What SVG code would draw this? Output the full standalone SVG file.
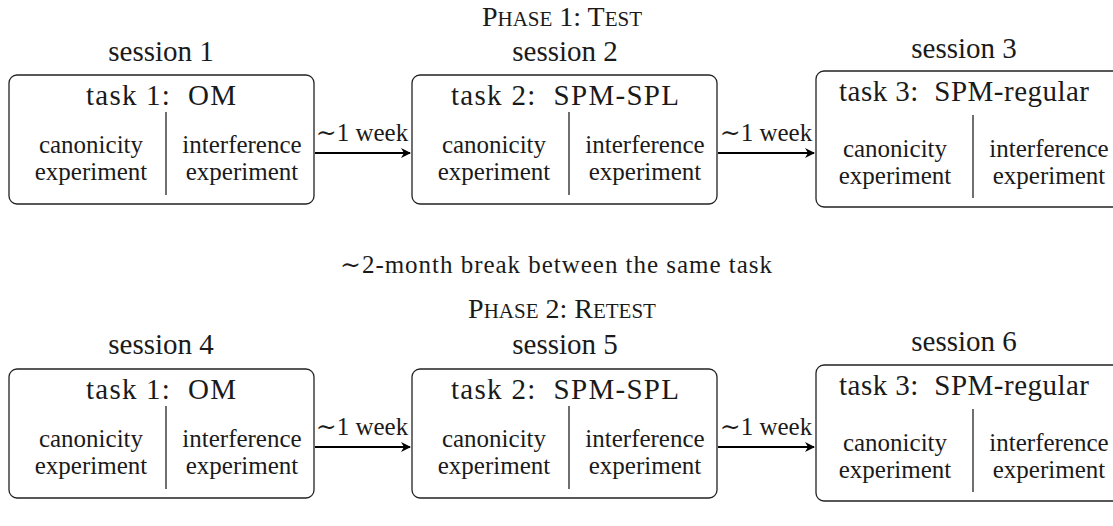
<svg xmlns="http://www.w3.org/2000/svg" width="1113" height="526" viewBox="0 0 1113 526" font-family="'Liberation Serif', 'DejaVu Serif', serif">
<style>
text { font-family: "Liberation Serif", "Times New Roman", "DejaVu Serif", serif; fill: #1a1a1a; text-anchor: middle; }
.lg { font-size: 29px; }
.sm { font-size: 25px; }
.sc { font-size: 28px; }
.sc tspan.s { font-size: 21px; }
.box { fill: none; stroke: #222; stroke-width: 1.3; }
.div { stroke: #222; stroke-width: 1.3; }
.arr { stroke: #000; stroke-width: 2; fill: none; }
</style>
<defs>
<marker id="ah" viewBox="0 0 10 10" refX="9" refY="5" markerWidth="5" markerHeight="5" orient="auto" markerUnits="strokeWidth">
<path d="M0,0 L10,5 L0,10 L3,5 Z" fill="#000"/>
</marker>
</defs>
<text id="phase1" class="sc" x="562" y="26">P<tspan class="s">HASE</tspan> 1: T<tspan class="s">EST</tspan></text>
<text id="break" class="sm" x="556" y="273" textLength="432" lengthAdjust="spacing">∼2-month break between the same task</text>
<text id="phase2" class="sc" x="562" y="318">P<tspan class="s">HASE</tspan> 2: R<tspan class="s">ETEST</tspan></text>

<g id="session1">
<text class="lg" x="161" y="61">session 1</text>
<rect class="box" x="9" y="75" width="305" height="129" rx="8"/>
<text class="lg" x="161" y="105" xml:space="preserve" textLength="150" lengthAdjust="spacing">task 1:  OM</text>
<line class="div" x1="166" y1="112" x2="166" y2="195"/>
<text class="sm" x="91" y="153">canonicity</text>
<text class="sm" x="242" y="153">interference</text>
<text class="sm" x="91" y="180">experiment</text>
<text class="sm" x="242" y="180">experiment</text>
</g>
<g id="session2">
<text class="lg" x="565" y="61">session 2</text>
<rect class="box" x="412" y="75" width="305" height="129" rx="8"/>
<text class="lg" x="565" y="105" xml:space="preserve" textLength="228" lengthAdjust="spacing">task 2:  SPM-SPL</text>
<line class="div" x1="569" y1="112" x2="569" y2="195"/>
<text class="sm" x="494" y="153">canonicity</text>
<text class="sm" x="645" y="153">interference</text>
<text class="sm" x="494" y="180">experiment</text>
<text class="sm" x="645" y="180">experiment</text>
</g>
<g id="session3">
<text class="lg" x="964" y="58">session 3</text>
<rect class="box" x="816" y="71" width="305" height="136" rx="8"/>
<text class="lg" x="964" y="101" xml:space="preserve" textLength="250" lengthAdjust="spacing">task 3:  SPM-regular</text>
<line class="div" x1="973" y1="115" x2="973" y2="198"/>
<text class="sm" x="895" y="157">canonicity</text>
<text class="sm" x="1049" y="157">interference</text>
<text class="sm" x="895" y="184">experiment</text>
<text class="sm" x="1049" y="184">experiment</text>
</g>

<g id="session4">
<text class="lg" x="161" y="354">session 4</text>
<rect class="box" x="9" y="369" width="305" height="129" rx="8"/>
<text class="lg" x="161" y="399" xml:space="preserve" textLength="150" lengthAdjust="spacing">task 1:  OM</text>
<line class="div" x1="166" y1="406" x2="166" y2="489"/>
<text class="sm" x="91" y="447">canonicity</text>
<text class="sm" x="242" y="447">interference</text>
<text class="sm" x="91" y="474">experiment</text>
<text class="sm" x="242" y="474">experiment</text>
</g>
<g id="session5">
<text class="lg" x="565" y="354">session 5</text>
<rect class="box" x="412" y="369" width="305" height="129" rx="8"/>
<text class="lg" x="565" y="399" xml:space="preserve" textLength="228" lengthAdjust="spacing">task 2:  SPM-SPL</text>
<line class="div" x1="569" y1="406" x2="569" y2="489"/>
<text class="sm" x="494" y="447">canonicity</text>
<text class="sm" x="645" y="447">interference</text>
<text class="sm" x="494" y="474">experiment</text>
<text class="sm" x="645" y="474">experiment</text>
</g>
<g id="session6">
<text class="lg" x="964" y="351">session 6</text>
<rect class="box" x="816" y="365" width="305" height="136" rx="8"/>
<text class="lg" x="964" y="395" xml:space="preserve" textLength="250" lengthAdjust="spacing">task 3:  SPM-regular</text>
<line class="div" x1="973" y1="409" x2="973" y2="492"/>
<text class="sm" x="895" y="451">canonicity</text>
<text class="sm" x="1049" y="451">interference</text>
<text class="sm" x="895" y="478">experiment</text>
<text class="sm" x="1049" y="478">experiment</text>
</g>

<g id="connectors">
<line class="arr" x1="315" y1="153" x2="410" y2="153" marker-end="url(#ah)"/>
<text class="sm" x="362" y="141">∼1 week</text>
<line class="arr" x1="718" y1="153" x2="814" y2="153" marker-end="url(#ah)"/>
<text class="sm" x="766" y="141">∼1 week</text>
<line class="arr" x1="315" y1="447" x2="410" y2="447" marker-end="url(#ah)"/>
<text class="sm" x="362" y="435">∼1 week</text>
<line class="arr" x1="718" y1="447" x2="814" y2="447" marker-end="url(#ah)"/>
<text class="sm" x="766" y="435">∼1 week</text>
</g>
</svg>
